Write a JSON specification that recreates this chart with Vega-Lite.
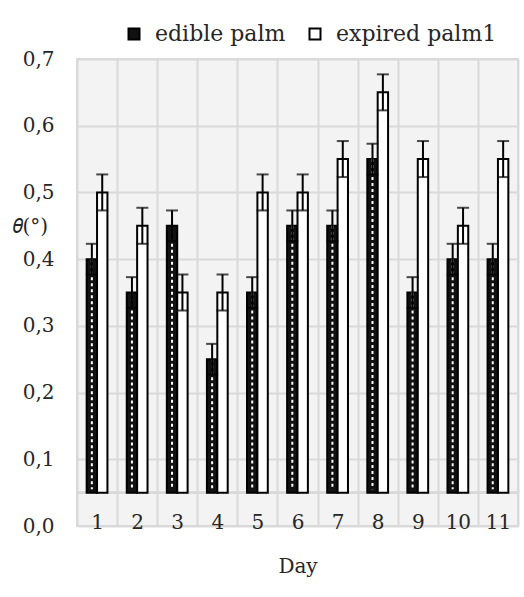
{
  "$schema": "https://vega.github.io/schema/vega-lite/v6.json",
  "width": 441,
  "height": 467,
  "autosize": "none",
  "padding": {"left": 77, "top": 59, "right": 6, "bottom": 71},
  "background": "white",
  "config": {
    "font": "DejaVu Serif",
    "view": {"fill": "#f3f3f3", "stroke": "#d9d9d9", "strokeWidth": 2}
  },
  "data": {
    "values": [
      {"day": 1, "type": "edible palm", "value": 0.40, "lo": 0.377, "hi": 0.423},
      {"day": 2, "type": "edible palm", "value": 0.35, "lo": 0.327, "hi": 0.373},
      {"day": 3, "type": "edible palm", "value": 0.45, "lo": 0.427, "hi": 0.473},
      {"day": 4, "type": "edible palm", "value": 0.25, "lo": 0.227, "hi": 0.273},
      {"day": 5, "type": "edible palm", "value": 0.35, "lo": 0.327, "hi": 0.373},
      {"day": 6, "type": "edible palm", "value": 0.45, "lo": 0.427, "hi": 0.473},
      {"day": 7, "type": "edible palm", "value": 0.45, "lo": 0.427, "hi": 0.473},
      {"day": 8, "type": "edible palm", "value": 0.55, "lo": 0.527, "hi": 0.573},
      {"day": 9, "type": "edible palm", "value": 0.35, "lo": 0.327, "hi": 0.373},
      {"day": 10, "type": "edible palm", "value": 0.40, "lo": 0.377, "hi": 0.423},
      {"day": 11, "type": "edible palm", "value": 0.40, "lo": 0.377, "hi": 0.423},
      {"day": 1, "type": "expired palm1", "value": 0.50, "lo": 0.473, "hi": 0.527},
      {"day": 2, "type": "expired palm1", "value": 0.45, "lo": 0.423, "hi": 0.477},
      {"day": 3, "type": "expired palm1", "value": 0.35, "lo": 0.323, "hi": 0.377},
      {"day": 4, "type": "expired palm1", "value": 0.35, "lo": 0.323, "hi": 0.377},
      {"day": 5, "type": "expired palm1", "value": 0.50, "lo": 0.473, "hi": 0.527},
      {"day": 6, "type": "expired palm1", "value": 0.50, "lo": 0.473, "hi": 0.527},
      {"day": 7, "type": "expired palm1", "value": 0.55, "lo": 0.523, "hi": 0.577},
      {"day": 8, "type": "expired palm1", "value": 0.65, "lo": 0.623, "hi": 0.677},
      {"day": 9, "type": "expired palm1", "value": 0.55, "lo": 0.523, "hi": 0.577},
      {"day": 10, "type": "expired palm1", "value": 0.45, "lo": 0.423, "hi": 0.477},
      {"day": 11, "type": "expired palm1", "value": 0.55, "lo": 0.523, "hi": 0.577}
    ]
  },
  "layer": [
    {
      "mark": {"type": "rule", "color": "#d9d9d9", "strokeWidth": 2},
      "encoding": {"y": {"datum": 0.05, "type": "quantitative"}}
    },
    {
      "mark": {"type": "bar", "stroke": "black", "strokeWidth": 2},
      "encoding": {
        "x": {
          "field": "day",
          "type": "ordinal",
          "scale": {"paddingInner": 0, "paddingOuter": 0},
          "axis": {
            "title": "Day",
            "grid": true,
            "tickBand": "extent",
            "gridColor": "#d9d9d9",
            "gridWidth": 2,
            "domain": false,
            "ticks": false,
            "tickSize": 0,
            "labelAngle": 0,
            "labelPadding": -14,
            "labelBaseline": "top",
            "labelFontSize": 20,
            "labelColor": "#262626",
            "titleFontSize": 20,
            "titleFontWeight": "normal",
            "titleColor": "#262626",
            "titleY": 46,
            "titleBaseline": "alphabetic"
          }
        },
        "xOffset": {
          "field": "type",
          "scale": {"paddingInner": 0, "paddingOuter": 0.93}
        },
        "y": {
          "field": "value",
          "type": "quantitative",
          "scale": {"domain": [0, 0.7], "nice": false},
          "axis": {
            "title": "𝜃(°)",
            "values": [0, 0.1, 0.2, 0.3, 0.4, 0.5, 0.6, 0.7],
            "labelExpr": "replace(format(datum.value, '.1f'), '.', ',')",
            "grid": true,
            "gridColor": "#d9d9d9",
            "gridWidth": 2,
            "domain": false,
            "ticks": false,
            "tickSize": 0,
            "labelPadding": 23,
            "labelFontSize": 20,
            "labelColor": "#262626",
            "titleAngle": 0,
            "titleX": -65,
            "titleY": 167,
            "titleAlign": "left",
            "titleBaseline": "middle",
            "titleFontSize": 20,
            "titleFontWeight": "normal",
            "titleColor": "#262626"
          }
        },
        "y2": {"datum": 0.05},
        "fill": {
          "field": "type",
          "type": "nominal",
          "scale": {"domain": ["edible palm", "expired palm1"], "range": ["#111111", "#ffffff"]},
          "legend": {
            "title": null,
            "orient": "none",
            "legendX": 46,
            "legendY": -36,
            "direction": "horizontal",
            "symbolType": "square",
            "symbolSize": 121,
            "symbolStrokeColor": "black",
            "symbolStrokeWidth": 2,
            "labelFontSize": 22,
            "labelLimit": 400,
            "labelColor": "#262626",
            "labelOffset": 10,
            "columnPadding": 18,
            "padding": 0
          }
        }
      }
    },
    {
      "transform": [{"filter": "datum.type === 'edible palm'"}],
      "mark": {"type": "rule", "color": "white", "strokeWidth": 2, "strokeDash": [3, 3]},
      "encoding": {
        "x": {"field": "day", "type": "ordinal"},
        "xOffset": {"field": "type"},
        "y": {"field": "value", "type": "quantitative"},
        "y2": {"datum": 0.055}
      }
    },
    {
      "mark": {"type": "rule", "color": "black", "strokeWidth": 2},
      "encoding": {
        "x": {"field": "day", "type": "ordinal"},
        "xOffset": {"field": "type"},
        "y": {"field": "lo", "type": "quantitative"},
        "y2": {"field": "hi"}
      }
    },
    {
      "mark": {"type": "tick", "color": "black", "thickness": 2, "size": 12, "orient": "horizontal"},
      "encoding": {
        "x": {"field": "day", "type": "ordinal"},
        "xOffset": {"field": "type"},
        "y": {"field": "lo", "type": "quantitative"}
      }
    },
    {
      "mark": {"type": "tick", "color": "black", "thickness": 2, "size": 12, "orient": "horizontal"},
      "encoding": {
        "x": {"field": "day", "type": "ordinal"},
        "xOffset": {"field": "type"},
        "y": {"field": "hi", "type": "quantitative"}
      }
    }
  ]
}
